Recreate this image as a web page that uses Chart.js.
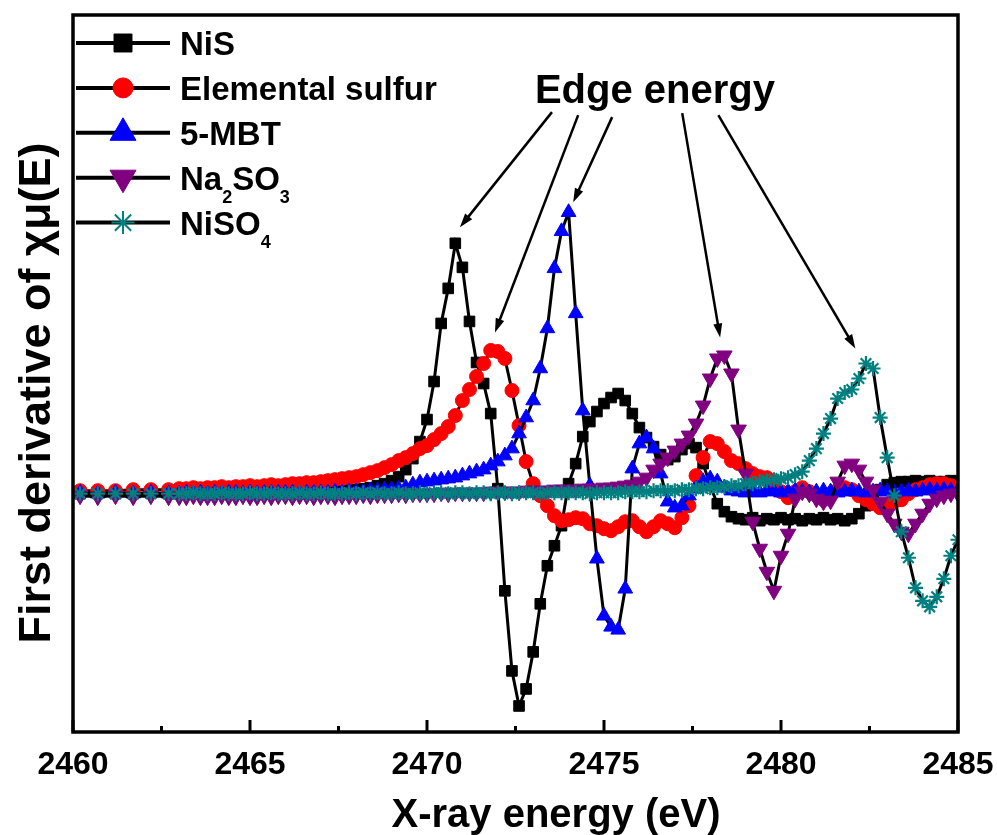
<!DOCTYPE html>
<html>
<head>
<meta charset="utf-8">
<title>First derivative of S K-edge XANES</title>
<script src="https://cdn.jsdelivr.net/npm/chart.js@4.4.0/dist/chart.umd.min.js"></script>
<style>
  html, body { margin: 0; padding: 0; background: #fff; }
  #wrap { width: 997px; height: 835px; position: relative; }
</style>
</head>
<body>
<div id="wrap"><canvas id="chart"></canvas></div>
<script>
// X-ray energy grid (eV): a few sparse points, then 0.2 eV steps
const energy = [
  2460.2, 2460.7, 2461.2, 2461.7, 2462.2, 2462.7,
  2463.0, 2463.2, 2463.4, 2463.6, 2463.8,
  2464.0, 2464.2, 2464.4, 2464.6, 2464.8,
  2465.0, 2465.2, 2465.4, 2465.6, 2465.8,
  2466.0, 2466.2, 2466.4, 2466.6, 2466.8,
  2467.0, 2467.2, 2467.4, 2467.6, 2467.8,
  2468.0, 2468.2, 2468.4, 2468.6, 2468.8,
  2469.0, 2469.2, 2469.4, 2469.6, 2469.8,
  2470.0, 2470.2, 2470.4, 2470.6, 2470.8,
  2471.0, 2471.2, 2471.4, 2471.6, 2471.8,
  2472.0, 2472.2, 2472.4, 2472.6, 2472.8,
  2473.0, 2473.2, 2473.4, 2473.6, 2473.8,
  2474.0, 2474.2, 2474.4, 2474.6, 2474.8,
  2475.0, 2475.2, 2475.4, 2475.6, 2475.8,
  2476.0, 2476.2, 2476.4, 2476.6, 2476.8,
  2477.0, 2477.2, 2477.4, 2477.6, 2477.8,
  2478.0, 2478.2, 2478.4, 2478.6, 2478.8,
  2479.0, 2479.2, 2479.4, 2479.6, 2479.8,
  2480.0, 2480.2, 2480.4, 2480.6, 2480.8,
  2481.0, 2481.2, 2481.4, 2481.6, 2481.8,
  2482.0, 2482.2, 2482.4, 2482.6, 2482.8,
  2483.0, 2483.2, 2483.4, 2483.6, 2483.8,
  2484.0, 2484.2, 2484.4, 2484.6, 2484.8,
  2485.0
];

// first derivative, arbitrary units
const nis = [
  0, 1, 0, 0, 1, 0,
  0, 0, 1, 0, 1,
  1, 0, 1, 1, 0,
  1, 1, 0, 1, 1,
  1, 2, 1, 2, 2,
  2, 2, 3, 3, 4,
  4, 5, 6, 8, 10,
  13, 17, 24, 35, 52,
  74, 112, 170, 205, 250,
  226, 172, 131, 110, 80,
  5, -97, -177, -212, -195,
  -158, -110, -72, -52, -32,
  10, 30, 57, 72, 82,
  90, 96, 100, 93, 80,
  66, 56, 47, 39, 34,
  37, 44, 50, 46, 30,
  8, -10, -18, -23, -25,
  -26, -24, -27, -25, -26,
  -24, -26, -25, -27, -25,
  -26, -24, -26, -25, -27,
  -25, -20, -12, -3, 4,
  9, 11, 12, 12, 13,
  12, 13, 12, 12, 13,
  12
];

const sulfur = [
  3, 3, 3, 4, 4, 4,
  5, 5, 6, 5, 6,
  6, 7, 6, 7, 7,
  8, 7, 8, 9, 8,
  9, 10, 10, 11, 11,
  12, 13, 14, 15, 16,
  17, 19, 21, 23, 26,
  29, 33, 36, 40, 45,
  48, 54, 60, 67, 78,
  93, 104, 117, 130, 143,
  142, 135, 103, 68, 32,
  10, -2, -12, -22, -27,
  -26, -24, -25, -30, -32,
  -35, -37, -33, -28, -27,
  -33, -38, -33, -27, -30,
  -34, -24, -12, 18, 36,
  52, 50, 42, 33, 30,
  25, 20, 17, 16, 12,
  2, -4, 2, 6, 2,
  -2, -6, 0, 4, 6,
  4, -2, -6, -10, -14,
  -12, -8, -6, 0, 4,
  6, 9, 10, 10, 8,
  6
];

const mbt = [
  1, 0, 1, 0, 1, 0,
  0, 1, 0, 1, 0,
  1, 0, 1, 1, 0,
  1, 0, 1, 1, 1,
  1, 1, 0, 1, 1,
  1, 1, 2, 1, 2,
  2, 2, 3, 3, 4,
  4, 5, 6, 9, 11,
  12, 13, 14, 15, 16,
  18, 20, 22, 24, 28,
  32, 38, 45, 60, 76,
  93, 125, 165, 225, 262,
  281, 180, 83, 8, -65,
  -122, -133, -136, -95, 25,
  50, 56, 45, 20, -8,
  -14, -12, -2, 5, 12,
  15, 12, 6, 3, 2,
  1, 2, 1, 3, 2,
  1, 2, 3, 2, 1,
  2, 3, 2, 1, 2,
  3, 2, 1, 2, 3,
  2, 1, 2, 3, 2,
  3, 4, 3, 4, 3,
  3
];

const na2so3 = [
  -2, -3, -2, -3, -2, -3,
  -3, -3, -2, -3, -3,
  -3, -2, -3, -3, -2,
  -3, -3, -2, -3, -2,
  -2, -3, -2, -2, -3,
  -2, -2, -3, -2, -2,
  -2, -1, -2, -1, -1,
  -1, 0, -1, 0, 0,
  0, 0, 1, 0, 1,
  1, 1, 1, 1, 2,
  2, 2, 2, 2, 3,
  3, 3, 3, 4, 4,
  4, 4, 5, 5, 5,
  6, 6, 7, 8, 9,
  12, 16, 24, 30, 36,
  43, 50, 58, 70, 88,
  115, 135, 138, 120, 64,
  20, -28, -55, -78, -97,
  -62, -40, -5, 2, 0,
  -5, -8, -7, 12, 28,
  30, 24, 12, 4, -8,
  -20, -30, -38, -40, -30,
  -20, -10, -5, -2, 0,
  0
];

const niso4 = [
  0, 0, 0, 0, 0, 0,
  0, 0, 1, 0, 0,
  0, 1, 0, 0, 0,
  1, 0, 0, 1, 0,
  0, 0, 1, 0, 0,
  1, 0, 0, 0, 1,
  0, 1, 0, 1, 0,
  0, 1, 0, 0, 1,
  0, 1, 1, 0, 1,
  1, 0, 1, 1, 0,
  1, 1, 0, 1, 1,
  1, 0, 1, 1, 1,
  1, 1, 1, 0, 1,
  1, 1, 1, 2, 2,
  2, 2, 3, 3, 3,
  3, 4, 4, 5, 5,
  6, 6, 7, 8, 8,
  10, 10, 12, 13, 14,
  15, 16, 19, 22, 33,
  45, 60, 75, 95, 101,
  104, 115, 130, 125, 76,
  36, -2, -38, -64, -94,
  -107, -113, -103, -85, -62,
  -46
];

const seriesNames = ['NiS', 'Elemental sulfur', '5-MBT', 'Na₂SO₃', 'NiSO₄'];

// "Edge energy" arrows, in data units [eV, value]: tail -> head
const edgeLabel = { x: 2476.44, y: 390, text: 'Edge energy' };
const edgeArrows = [
  { from: [2473.53, 381], to: [2470.93, 266] },
  { from: [2474.27, 378], to: [2471.92, 161] },
  { from: [2475.23, 376], to: [2474.13, 291] },
  { from: [2477.21, 380], to: [2478.28, 156] },
  { from: [2478.23, 378], to: [2482.10, 145] },
];

const FONT = 'Arial, "Liberation Sans", sans-serif';

function pts(values) {
  return energy.map((e, i) => ({ x: e, y: values[i] }));
}

function series(label, values, color, style, radius, rotation, order) {
  return {
    label,
    data: pts(values),
    borderColor: '#000',
    borderWidth: 3,
    pointStyle: style,
    pointRotation: rotation,
    pointRadius: radius,
    pointHoverRadius: radius,
    pointBackgroundColor: color,
    pointBorderColor: color,
    pointBorderWidth: style === 'star' ? 2.2 : 1,
    tension: 0,
    order,
  };
}

// ── draw helpers ──────────────────────────────────────────
const SUBS = { '₀': '0', '₁': '1', '₂': '2', '₃': '3', '₄': '4' };

function drawRich(ctx, text, x, y, size) {
  for (const ch of text) {
    if (SUBS[ch]) {
      ctx.font = `bold ${Math.round(size * 0.56)}px ${FONT}`;
      ctx.fillText(SUBS[ch], x, y + size * 0.4);
      x += ctx.measureText(SUBS[ch]).width;
    } else {
      ctx.font = `bold ${size}px ${FONT}`;
      ctx.fillText(ch, x, y);
      x += ctx.measureText(ch).width;
    }
  }
}

function arrow(ctx, x1, y1, x2, y2) {
  const a = Math.atan2(y2 - y1, x2 - x1);
  const hl = 14, hw = 4.5;
  ctx.beginPath();
  ctx.moveTo(x1, y1);
  ctx.lineTo(x2 - hl * 0.7 * Math.cos(a), y2 - hl * 0.7 * Math.sin(a));
  ctx.stroke();
  ctx.beginPath();
  ctx.moveTo(x2, y2);
  ctx.lineTo(x2 - hl * Math.cos(a) + hw * Math.sin(a), y2 - hl * Math.sin(a) - hw * Math.cos(a));
  ctx.lineTo(x2 - hl * Math.cos(a) - hw * Math.sin(a), y2 - hl * Math.sin(a) + hw * Math.cos(a));
  ctx.closePath();
  ctx.fill();
}

// ── frame, inward ticks, titles, annotation ───────────────
const framePlugin = {
  id: 'frame',
  afterDraw(chart) {
    const { ctx, chartArea: a, scales: { x, y } } = chart;
    ctx.save();
    ctx.strokeStyle = '#000';
    ctx.fillStyle = '#000';

    ctx.lineWidth = 3.5;
    ctx.strokeRect(a.left, a.top, a.right - a.left, a.bottom - a.top);

    ctx.lineWidth = 3;
    x.ticks.forEach(t => {
      const px = x.getPixelForValue(t.value);
      const len = t.value % 5 === 0 ? 12 : 6;
      ctx.beginPath();
      ctx.moveTo(px, a.bottom);
      ctx.lineTo(px, a.bottom - len);
      ctx.stroke();
    });

    // axis titles
    ctx.font = `bold 40px ${FONT}`;
    ctx.textAlign = 'center';
    ctx.textBaseline = 'alphabetic';
    ctx.fillText('X-ray energy (eV)', 556, 827);

    ctx.save();
    ctx.translate(50, 393);
    ctx.rotate(-Math.PI / 2);
    ctx.font = `bold 45px ${FONT}`;
    ctx.fillText('First derivative of χμ(E)', 0, 0);
    ctx.restore();

    // Edge energy annotation
    ctx.font = `bold 40px ${FONT}`;
    ctx.fillText(edgeLabel.text, x.getPixelForValue(edgeLabel.x), y.getPixelForValue(edgeLabel.y));
    ctx.lineWidth = 2.5;
    edgeArrows.forEach(ar => {
      arrow(ctx,
        x.getPixelForValue(ar.from[0]), y.getPixelForValue(ar.from[1]),
        x.getPixelForValue(ar.to[0]), y.getPixelForValue(ar.to[1]));
    });
    ctx.restore();
  }
};

// ── legend: line + symbol, subscripted labels ─────────────
const LEGEND_R = { rect: 12.7, circle: 10, triangle: 15, star: 11.5 };

const legendPlugin = {
  id: 'sideLegend',
  afterDraw(chart) {
    const { ctx, chartArea: a } = chart;
    ctx.save();
    ctx.textAlign = 'left';
    ctx.textBaseline = 'alphabetic';
    chart.data.datasets.forEach((ds, i) => {
      const yy = a.top + 28 + i * 44.9;
      ctx.strokeStyle = '#000';
      ctx.lineWidth = 4;
      ctx.beginPath();
      ctx.moveTo(a.left + 3, yy);
      ctx.lineTo(a.left + 97, yy);
      ctx.stroke();

      ctx.fillStyle = ds.pointBackgroundColor;
      ctx.strokeStyle = ds.pointBorderColor;
      const bw = ds.pointStyle === 'star' ? 2 : 1;
      ctx.lineWidth = bw;
      Chart.helpers.drawPoint(ctx, {
        pointStyle: ds.pointStyle,
        rotation: ds.pointRotation || 0,
        radius: LEGEND_R[ds.pointStyle],
        borderWidth: bw,
      }, a.left + 50, yy);

      ctx.fillStyle = '#000';
      drawRich(ctx, ds.label, a.left + 107, yy + 12, 33);
    });
    ctx.restore();
  }
};

new Chart(document.getElementById('chart'), {
  type: 'line',
  data: {
    datasets: [
      series(seriesNames[0], nis, '#000000', 'rect', 7.5, 0, 4),
      series(seriesNames[1], sulfur, '#ff0000', 'circle', 7, 0, 3),
      series(seriesNames[2], mbt, '#0000ff', 'triangle', 8.5, 0, 2),
      series(seriesNames[3], na2so3, '#800080', 'triangle', 9, 180, 1),
      series(seriesNames[4], niso4, '#008080', 'star', 7.5, 0, 0),
    ],
  },
  options: {
    responsive: true,
    maintainAspectRatio: false,
    animation: false,
    layout: { padding: { left: 73, right: 39, top: 15, bottom: 47.6 } },
    plugins: {
      legend: { display: false },
      tooltip: { enabled: true },
    },
    scales: {
      x: {
        type: 'linear',
        min: 2460,
        max: 2485,
        grid: { display: false, drawTicks: true, tickLength: 11 },
        border: { display: false },
        ticks: {
          stepSize: 2.5,
          autoSkip: false,
          maxRotation: 0,
          padding: 3,
          color: '#000',
          font: { family: FONT, size: 32, weight: 'bold' },
          callback: v => (v % 5 === 0 ? String(v) : ''),
        },
      },
      y: {
        type: 'linear',
        display: false,
        min: -238,
        max: 478,
      },
    },
  },
  plugins: [framePlugin, legendPlugin],
});
</script>
</body>
</html>
